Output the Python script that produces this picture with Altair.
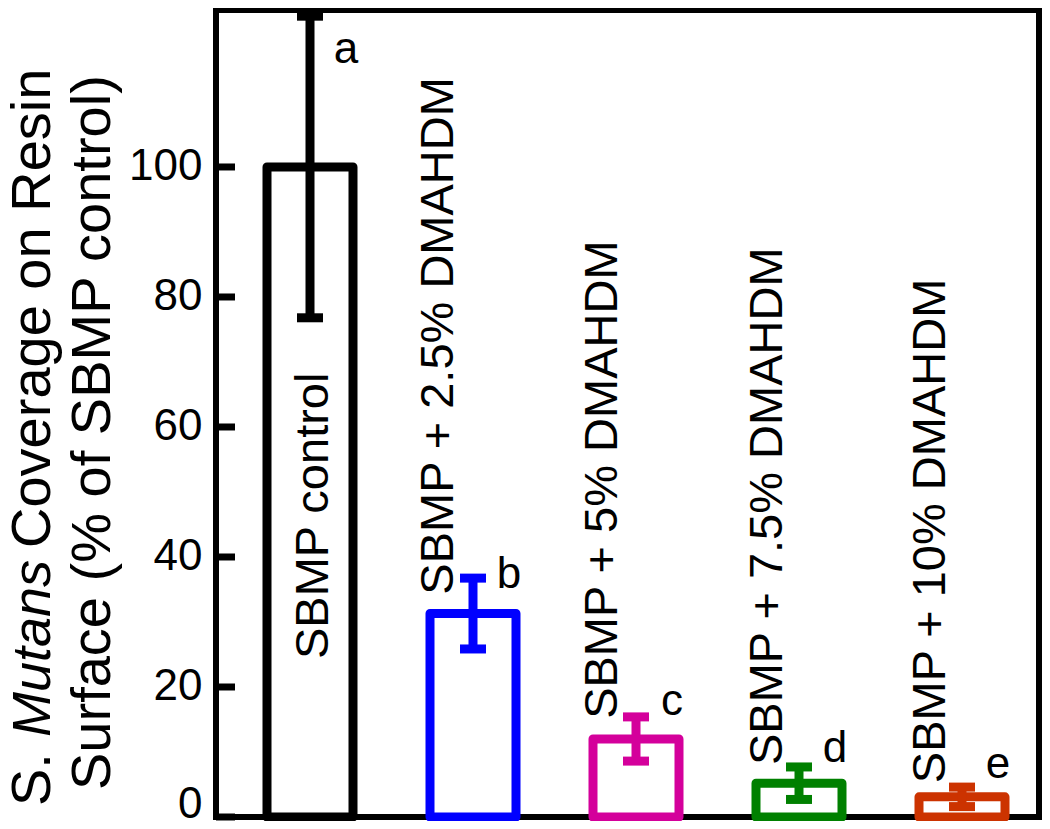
import altair as alt
import pandas as pd

# ---- data ----
groups = ["SBMP control", "SBMP + 2.5% DMAHDM", "SBMP + 5% DMAHDM",
          "SBMP + 7.5% DMAHDM", "SBMP + 10% DMAHDM"]
positions = [1, 2, 3, 4, 5]
means = [100.0, 31.3, 12.0, 5.2, 3.1]
errors = [23.2, 5.45, 3.4, 2.5, 1.5]
colors = ["#000000", "#0000FF", "#D4009B", "#008000", "#CC3300"]
letters = ["a", "b", "c", "d", "e"]
letter_y = [116.0, 35.2, 15.7, 8.5, 6.0]
label_start = [24.3, 34.2, 15.1, 8.0, 5.2]
label_shift = [0.11, -0.123, -0.117, -0.104, -0.104]
tick_values = [0, 20, 40, 60, 80, 100]
title_line1 = ["S.", "Mutans", "Coverage on Resin"]
title_line2 = ["Surface (% of SBMP control)"]

FONT = "Liberation Sans"

df = pd.DataFrame({
    "group": groups,
    "pos": positions,
    "mean": means,
    "err": errors,
    "letter": letters,
    "letter_y": letter_y,
    "label_start": label_start,
    "label_shift": label_shift,
})
df["lo"] = df["mean"] - df["err"]
df["hi"] = df["mean"] + df["err"]
df["label_x"] = df["pos"] + df["label_shift"]
df["letter_x"] = df["pos"] + 0.221

xscale = alt.Scale(domain=[0.4233, 5.4724], nice=False, zero=False)
yscale = alt.Scale(domain=[0, 124.15], nice=False, zero=False)
cscale = alt.Scale(domain=groups, range=colors)

base = alt.Chart(df)

X = alt.X("pos:Q", scale=xscale, axis=None)

bars = base.mark_rect(filled=False, strokeWidth=9, strokeJoin="round",
                      xOffset=-43, x2Offset=43).encode(
    x=X, x2="pos:Q",
    y=alt.Y("mean:Q", scale=yscale,
            axis=alt.Axis(values=tick_values, format="d", ticks=False, tickSize=0,
                          domain=False, grid=False, labelFontSize=44, labelFont=FONT,
                          labelColor="black", labelPadding=14, title=None,
                          labelOffset={"condition": {"test": "datum.value === 0", "value": -13},
                                       "value": 0})),
    y2=alt.datum(0),
    color=alt.Color("group:N", scale=cscale, legend=None),
)

err_lines = base.mark_rule(strokeWidth=9).encode(
    x=X, y=alt.Y("lo:Q", scale=yscale), y2="hi:Q",
    color=alt.Color("group:N", scale=cscale, legend=None),
)
caps_hi = base.mark_rule(strokeWidth=9, xOffset=-13, x2Offset=13).encode(
    x=X, x2="pos:Q", y=alt.Y("hi:Q", scale=yscale),
    color=alt.Color("group:N", scale=cscale, legend=None),
)
caps_lo = base.mark_rule(strokeWidth=9, xOffset=-13, x2Offset=13).encode(
    x=X, x2="pos:Q", y=alt.Y("lo:Q", scale=yscale),
    color=alt.Color("group:N", scale=cscale, legend=None),
)

labels = base.mark_text(angle=270, align="left", baseline="alphabetic",
                        fontSize=47, font=FONT, color="black").encode(
    x=alt.X("label_x:Q", scale=xscale, axis=None),
    y=alt.Y("label_start:Q", scale=yscale),
    text="group:N",
)

letter_marks = base.mark_text(align="center", baseline="alphabetic",
                              fontSize=44, font=FONT, color="black").encode(
    x=alt.X("letter_x:Q", scale=xscale, axis=None),
    y=alt.Y("letter_y:Q", scale=yscale),
    text="letter:N",
)

ticks = alt.Chart(pd.DataFrame({"t": tick_values})).mark_rule(
    strokeWidth=7, color="black").encode(
    y=alt.Y("t:Q", scale=yscale),
    x=alt.value(0), x2=alt.value(19),
)

t_df1 = pd.DataFrame({"t": [title_line1[0]]})
t_df2 = pd.DataFrame({"t": [title_line1[1]]})
t_df3 = pd.DataFrame({"t": [title_line1[2]]})
t_df4 = pd.DataFrame({"t": title_line2})

tprops = dict(angle=270, align="left", baseline="alphabetic",
              font=FONT, color="black")
title_a = alt.Chart(t_df1).mark_text(fontSize=56, **tprops).encode(
    x=alt.value(-166), y=alt.value(796), text="t:N")
title_b = alt.Chart(t_df2).mark_text(fontSize=54, fontStyle="italic", **tprops).encode(
    x=alt.value(-166), y=alt.value(727), text="t:N")
title_c = alt.Chart(t_df3).mark_text(fontSize=56, **tprops).encode(
    x=alt.value(-166), y=alt.value(538), text="t:N")
title_d = alt.Chart(t_df4).mark_text(fontSize=56, **tprops).encode(
    x=alt.value(-106), y=alt.value(780), text="t:N")

chart = alt.layer(
    bars, err_lines, caps_hi, caps_lo, labels, letter_marks, ticks,
    title_a, title_b, title_c, title_d,
).properties(
    width=823, height=807,
    autosize=alt.AutoSizeParams(type="none"),
    padding={"left": 208, "top": 2, "right": 3, "bottom": 4},
).configure_view(stroke="black", strokeWidth=6)

chart.save("out.html", embed_options={"renderer": "svg", "actions": False})
